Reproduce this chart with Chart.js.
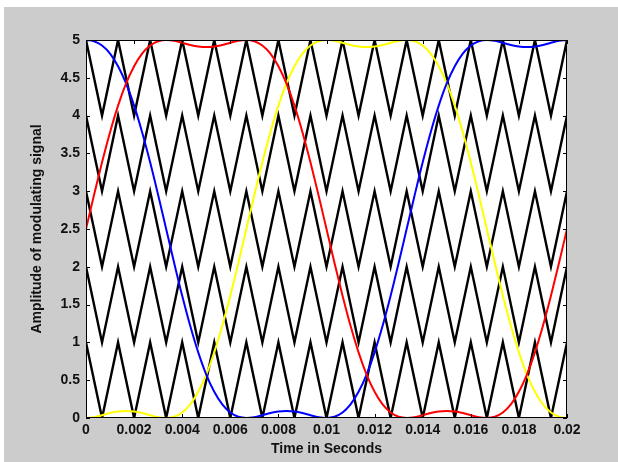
<!DOCTYPE html>
<html>
<head>
<meta charset="utf-8">
<title>Phase disposition carriers and modulating signals</title>
<script src="https://cdn.jsdelivr.net/npm/chart.js@4/dist/chart.umd.min.js"></script>
<style>
  html, body { margin: 0; padding: 0; background: #fff; }
  #wrap { position: relative; width: 618px; height: 462px; overflow: hidden; }
  #panel { position: absolute; left: 4px; top: 7px; right: 0; bottom: 0; background: #cccccc; }
  #chart { position: absolute; left: 0; top: 0; }
</style>
</head>
<body>
<div id="wrap">
  <div id="panel"></div>
  <canvas id="chart" width="618" height="462"></canvas>
</div>
<script>
// sample instants for the three modulating signals (s)
const sampleTimes = [0, 0.000333, 0.000667, 0.001, 0.001333, 0.001667, 0.002, 0.002333, 0.002667, 0.003,
  0.003333, 0.003667, 0.004, 0.004333, 0.004667, 0.005, 0.005333, 0.005667, 0.006, 0.006333,
  0.006667, 0.007, 0.007333, 0.007667, 0.008, 0.008333, 0.008667, 0.009, 0.009333, 0.009667,
  0.01, 0.010333, 0.010667, 0.011, 0.011333, 0.011667, 0.012, 0.012333, 0.012667, 0.013,
  0.013333, 0.013667, 0.014, 0.014333, 0.014667, 0.015, 0.015333, 0.015667, 0.016, 0.016333,
  0.016667, 0.017, 0.017333, 0.017667, 0.018, 0.018333, 0.018667, 0.019, 0.019333, 0.019667, 0.02];

// phase A (red)
const phaseA = [2.5, 2.95, 3.383, 3.781, 4.132, 4.425, 4.654, 4.821, 4.928, 4.984,
  5.0, 4.989, 4.963, 4.934, 4.913, 4.906, 4.913, 4.934, 4.963, 4.989,
  5.0, 4.984, 4.928, 4.821, 4.654, 4.425, 4.132, 3.781, 3.383, 2.95,
  2.5, 2.05, 1.617, 1.219, 0.868, 0.575, 0.346, 0.179, 0.072, 0.016,
  0.0, 0.011, 0.037, 0.066, 0.087, 0.094, 0.087, 0.066, 0.037, 0.011,
  0.0, 0.016, 0.072, 0.179, 0.346, 0.575, 0.868, 1.219, 1.617, 2.05, 2.5];

// phase B (blue)
const phaseB = [5.0, 4.984, 4.928, 4.821, 4.654, 4.425, 4.132, 3.781, 3.383, 2.95,
  2.5, 2.05, 1.617, 1.219, 0.868, 0.575, 0.346, 0.179, 0.072, 0.016,
  0.0, 0.011, 0.037, 0.066, 0.087, 0.094, 0.087, 0.066, 0.037, 0.011,
  0.0, 0.016, 0.072, 0.179, 0.346, 0.575, 0.868, 1.219, 1.617, 2.05,
  2.5, 2.95, 3.383, 3.781, 4.132, 4.425, 4.654, 4.821, 4.928, 4.984,
  5.0, 4.989, 4.963, 4.934, 4.913, 4.906, 4.913, 4.934, 4.963, 4.989, 5.0];

// phase C (yellow)
const phaseC = [0.0, 0.011, 0.037, 0.066, 0.087, 0.094, 0.087, 0.066, 0.037, 0.011,
  0.0, 0.016, 0.072, 0.179, 0.346, 0.575, 0.868, 1.219, 1.617, 2.05,
  2.5, 2.95, 3.383, 3.781, 4.132, 4.425, 4.654, 4.821, 4.928, 4.984,
  5.0, 4.989, 4.963, 4.934, 4.913, 4.906, 4.913, 4.934, 4.963, 4.989,
  5.0, 4.984, 4.928, 4.821, 4.654, 4.425, 4.132, 3.781, 3.383, 2.95,
  2.5, 2.05, 1.617, 1.219, 0.868, 0.575, 0.346, 0.179, 0.072, 0.016, 0.0];

// triangular carriers: corner instants, all bands in phase (peak at t = 0)
const carrierCorners = [0, 0.000667, 0.001333, 0.002, 0.002667, 0.003333, 0.004, 0.004667,
  0.005333, 0.006, 0.006667, 0.007333, 0.008, 0.008667, 0.009333, 0.01, 0.010667, 0.011333,
  0.012, 0.012667, 0.013333, 0.014, 0.014667, 0.015333, 0.016, 0.016667, 0.017333, 0.018,
  0.018667, 0.019333, 0.02];
const carrierTops = [5, 4, 3, 2, 1];
const carrierBottoms = [4, 3, 2, 1, 0];

const xTickStep = 0.002;
const yTickStep = 0.5;

const FONT = '"Liberation Sans", Arial, Helvetica, sans-serif';
const INK = '#111';

const toPoints = (xs, ys) => xs.map((x, i) => ({ x: x, y: ys[i] }));

const datasets = [];

// carriers first so the signals sit on top
carrierTops.forEach((top, b) => {
  const levels = carrierCorners.map((t, k) => (k % 2 === 0 ? top : carrierBottoms[b]));
  datasets.push({
    data: toPoints(carrierCorners, levels),
    borderColor: '#000',
    borderWidth: 2.4,
    tension: 0,
    order: 2,
  });
});

[[phaseA, '#ff0000'], [phaseB, '#0000ff'], [phaseC, '#ffff00']].forEach(([vals, col]) => {
  datasets.push({
    data: toPoints(sampleTimes, vals),
    borderColor: col,
    borderWidth: 2,
    cubicInterpolationMode: 'monotone',
    order: 1,
  });
});

// white plot area, black box and inward ticks on all four sides
const frame = {
  id: 'frame',
  beforeDatasetsDraw(chart) {
    const { ctx, chartArea: a } = chart;
    ctx.save();
    ctx.fillStyle = '#fff';
    ctx.fillRect(a.left, a.top, a.right - a.left, a.bottom - a.top);
    ctx.restore();
  },
  afterDatasetsDraw(chart) {
    const { ctx, chartArea: a, scales } = chart;
    const len = 4;
    ctx.save();
    ctx.strokeStyle = '#000';
    ctx.lineWidth = 1;
    ctx.beginPath();
    scales.x.ticks.forEach(t => {
      const px = Math.round(scales.x.getPixelForValue(t.value)) + 0.5;
      ctx.moveTo(px, a.bottom); ctx.lineTo(px, a.bottom - len);
      ctx.moveTo(px, a.top); ctx.lineTo(px, a.top + len);
    });
    scales.y.ticks.forEach(t => {
      const py = Math.round(scales.y.getPixelForValue(t.value)) + 0.5;
      ctx.moveTo(a.left, py); ctx.lineTo(a.left + len, py);
      ctx.moveTo(a.right, py); ctx.lineTo(a.right - len, py);
    });
    ctx.stroke();
    ctx.strokeRect(a.left + 0.5, a.top + 0.5, a.right - a.left - 1, a.bottom - a.top - 1);
    ctx.restore();
  },
};

new Chart(document.getElementById('chart').getContext('2d'), {
  type: 'line',
  data: { datasets: datasets },
  options: {
    responsive: false,
    animation: false,
    layout: { padding: { left: 0, top: 40, right: 51, bottom: 0 } },
    elements: { point: { radius: 0 } },
    plugins: {
      legend: { display: false },
      tooltip: { enabled: false },
    },
    scales: {
      x: {
        type: 'linear',
        min: 0,
        max: 0.02,
        grid: { display: false, drawTicks: false, tickLength: 0 },
        border: { display: false },
        afterFit: s => { s.height = 44; },
        ticks: {
          stepSize: xTickStep,
          padding: 4,
          color: INK,
          maxRotation: 0,
          font: { family: FONT, size: 14, weight: 'bold' },
          callback: v => String(parseFloat(v.toFixed(4))),
        },
        title: {
          display: true,
          text: 'Time in Seconds',
          color: INK,
          padding: { top: 0, bottom: 4.6 },
          font: { family: FONT, size: 14, weight: 'bold' },
        },
      },
      y: {
        min: 0,
        max: 5,
        grid: { display: false, drawTicks: false, tickLength: 0 },
        border: { display: false },
        afterFit: s => { s.width = 86; },
        ticks: {
          stepSize: yTickStep,
          padding: 6,
          color: INK,
          font: { family: FONT, size: 14, weight: 'bold' },
          callback: v => String(parseFloat(v.toFixed(2))),
        },
        title: {
          display: true,
          text: 'Amplitude of modulating signal',
          color: INK,
          padding: { top: 28.6, bottom: 0 },
          font: { family: FONT, size: 14, weight: 'bold' },
        },
      },
    },
  },
  plugins: [frame],
});
</script>
</body>
</html>
